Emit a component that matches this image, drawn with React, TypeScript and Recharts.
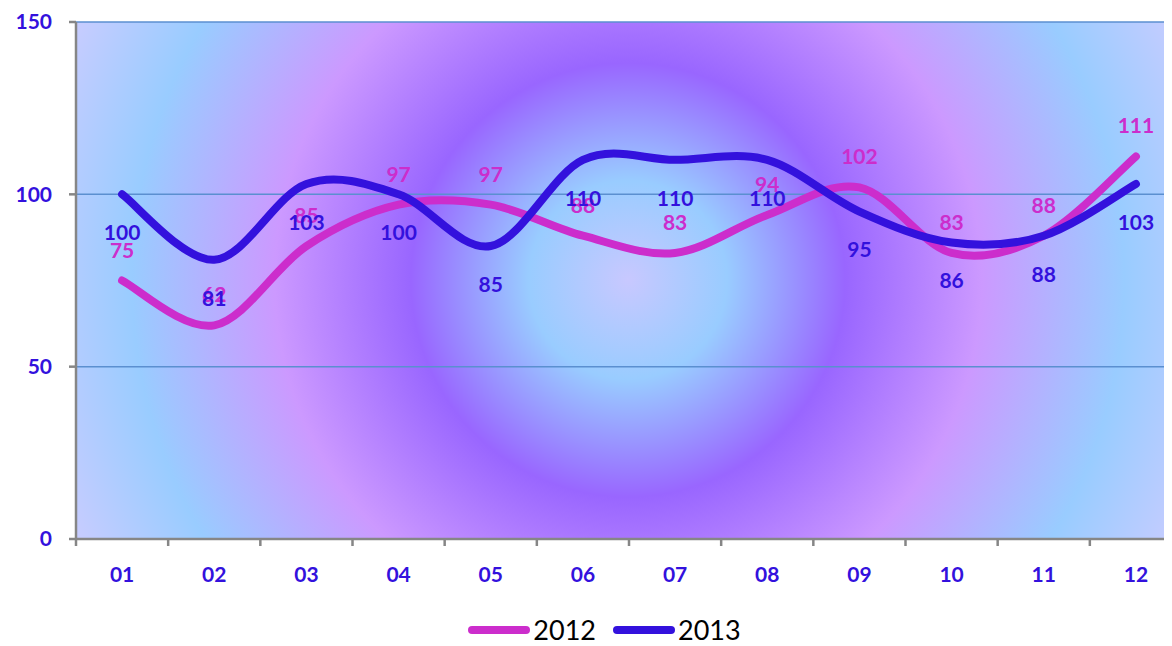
import React from "react";
import {
  LineChart,
  Line,
  XAxis,
  YAxis,
  CartesianGrid,
  Legend,
  LabelList,
} from "recharts";

const months = ["01", "02", "03", "04", "05", "06", "07", "08", "09", "10", "11", "12"];
const values2012 = [75, 62, 85, 97, 97, 88, 83, 94, 102, 83, 88, 111];
const values2013 = [100, 81, 103, 100, 85, 110, 110, 110, 95, 86, 88, 103];
const yTicks = [0, 50, 100, 150];

const data = months.map((m, i) => ({
  pos: i + 1,
  month: m,
  y2012: values2012[i],
  y2013: values2013[i],
}));

// ticks: band centres carry labels, band boundaries carry tick marks
const xTicks: number[] = [];
for (let i = 0; i <= months.length * 2; i++) xTicks.push(0.5 + i * 0.5);

const PINK = "#CC2DCC";
const BLUE = "#3311DD";
const AXIS = "#868686";
const FONT = "Lato, 'Open Sans', sans-serif";
const TICK_SIZE = 7;
const TICK_MARGIN = 21;

// Catmull-Rom (Excel-like smoothing)
const smoothCurve: any = (context: any) => {
  let pts: number[][] = [];
  return {
    areaStart() {},
    areaEnd() {},
    lineStart() {
      pts = [];
    },
    point(x: number, y: number) {
      pts.push([+x, +y]);
    },
    lineEnd() {
      const n = pts.length;
      if (!n) return;
      context.moveTo(pts[0][0], pts[0][1]);
      for (let i = 0; i < n - 1; i++) {
        const p0 = pts[i - 1] || pts[i];
        const p1 = pts[i];
        const p2 = pts[i + 1];
        const p3 = pts[i + 2] || p2;
        context.bezierCurveTo(
          p1[0] + (p2[0] - p0[0]) / 6,
          p1[1] + (p2[1] - p0[1]) / 6,
          p2[0] - (p3[0] - p1[0]) / 6,
          p2[1] - (p3[1] - p1[1]) / 6,
          p2[0],
          p2[1]
        );
      }
    },
  };
};

const XTick = (props: any) => {
  const { x, y, payload } = props;
  const v = payload.value;
  if (Number.isInteger(v)) {
    return (
      <text
        x={x}
        y={y}
        dy="0.71em"
        textAnchor="middle"
        fill={BLUE}
        fontFamily={FONT}
        fontWeight="bold"
        fontSize={21}
      >
        {months[v - 1]}
      </text>
    );
  }
  const axisY = y - TICK_SIZE - TICK_MARGIN;
  return <line x1={x} x2={x} y1={axisY} y2={axisY + TICK_SIZE} stroke={AXIS} strokeWidth={2.5} />;
};

const LegendContent = () => {
  const items = [
    { name: "2012", color: PINK },
    { name: "2013", color: BLUE },
  ];
  return (
    <div
      style={{
        display: "flex",
        justifyContent: "center",
        alignItems: "center",
        paddingTop: 17,
        paddingLeft: 36,
      }}
    >
      {items.map((it) => (
        <div key={it.name} style={{ display: "flex", alignItems: "center", marginRight: 17 }}>
          <svg width={62} height={10} style={{ display: "block" }}>
            <line x1={4} x2={58} y1={5} y2={5} stroke={it.color} strokeWidth={8} strokeLinecap="round" />
          </svg>
          <span
            style={{
              fontFamily: FONT,
              fontSize: 27,
              color: "#000",
              marginLeft: 3,
              lineHeight: "normal",
            }}
          >
            {it.name}
          </span>
        </div>
      ))}
    </div>
  );
};

export default function App() {
  return (
    <div style={{ width: 1164, height: 638, overflow: "hidden" }}>
      <LineChart
        width={1180}
        height={638}
        data={data}
        margin={{ top: 14, right: 6, left: 0, bottom: 0 }}
      >
        <defs>
          <radialGradient id="bgGrad" gradientUnits="userSpaceOnUse" cx={620} cy={272} r={620}>
            <stop offset="0" stopColor="#C8C8FF" />
            <stop offset="0.16" stopColor="#99CCFF" />
            <stop offset="0.35" stopColor="#9966FF" />
            <stop offset="0.57" stopColor="#CC99FF" />
            <stop offset="0.8" stopColor="#99CCFF" />
            <stop offset="1" stopColor="#CCCCFF" />
          </radialGradient>
        </defs>
        <CartesianGrid
          vertical={false}
          stroke="#5B8FD0"
          strokeWidth={1.5}
          fill="url(#bgGrad)"
          fillOpacity={1}
        />
        <XAxis
          dataKey="pos"
          type="number"
          domain={[0.5, 12.5]}
          ticks={xTicks}
          interval={0}
          allowDecimals
          height={57}
          tickSize={TICK_SIZE}
          tickMargin={TICK_MARGIN}
          tickLine={{ stroke: "none" }}
          axisLine={{ stroke: AXIS, strokeWidth: 2.5 }}
          tick={<XTick />}
        />
        <YAxis
          width={68}
          domain={[0, 150]}
          ticks={yTicks}
          interval={0}
          tickSize={TICK_SIZE}
          tickMargin={17}
          tickLine={{ stroke: AXIS, strokeWidth: 2.5 }}
          axisLine={{ stroke: AXIS, strokeWidth: 2.5 }}
          tick={{ fill: BLUE, fontFamily: FONT, fontWeight: "bold", fontSize: 21 }}
        />
        <Legend
          verticalAlign="bottom"
          height={50}
          content={<LegendContent />}
        />
        <Line
          dataKey="y2012"
          name="2012"
          type={smoothCurve}
          stroke={PINK}
          strokeWidth={8}
          strokeLinecap="round"
          dot={false}
          activeDot={false}
          isAnimationActive={false}
        >
          <LabelList
            dataKey="y2012"
            position="top"
            offset={23}
            fill={PINK}
            fontFamily={FONT}
            fontWeight="bold"
            fontSize={21}
          />
        </Line>
        <Line
          dataKey="y2013"
          name="2013"
          type={smoothCurve}
          stroke={BLUE}
          strokeWidth={8}
          strokeLinecap="round"
          dot={false}
          activeDot={false}
          isAnimationActive={false}
        >
          <LabelList
            dataKey="y2013"
            position="bottom"
            offset={31}
            fill={BLUE}
            fontFamily={FONT}
            fontWeight="bold"
            fontSize={21}
          />
        </Line>
      </LineChart>
    </div>
  );
}
